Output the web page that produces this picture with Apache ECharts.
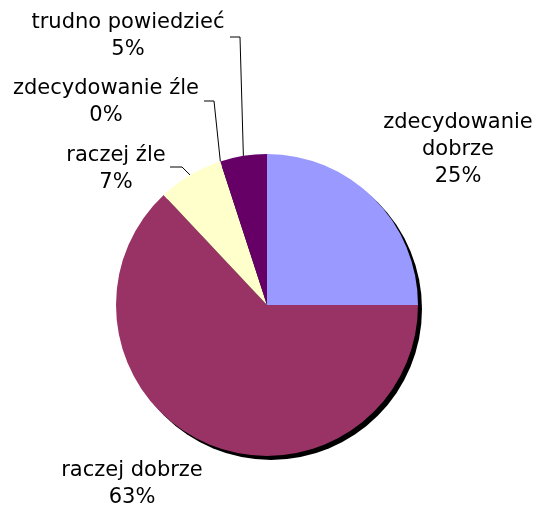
<!DOCTYPE html>
<html>
<head>
<meta charset="utf-8">
<script src="https://cdn.jsdelivr.net/npm/echarts@6/dist/echarts.min.js"></script>
<style>
  html, body { margin: 0; padding: 0; background: #fff; }
  #main { width: 541px; height: 509px; }
</style>
</head>
<body>
<div id="main"></div>
<script>
// dane z wykresu
const categories = ['zdecydowanie\ndobrze', 'raczej dobrze', 'raczej źle', 'zdecydowanie źle', 'trudno powiedzieć'];
const values = [25, 63, 7, 0, 5];
const colors = ['#9999FF', '#993366', '#FFFFCC', '#3D0A3D', '#660066'];

// gdzie stoją etykiety (środek bloku tekstu)
const labelPos = [[458, 150], [132, 484], [116, 169], [106, 102], [128, 36]];
// linie: [x załamania, y poziomego odcinka, x końca przy tekście]
const linePos = [null, null, [182, 167, 170], [214, 101, 204], [240, 37, 230]];

const chart = echarts.init(document.getElementById('main'));

chart.setOption({
    animation: false,
    series: [
        {
            // cień pod kołem
            type: 'pie',
            silent: true,
            center: [271, 309],
            radius: 151,
            label: { show: false },
            labelLine: { show: false },
            itemStyle: { color: '#000' },
            data: [{ value: 1 }]
        },
        {
            type: 'pie',
            center: [267, 305],
            radius: 151,
            startAngle: 90,
            clockwise: true,
            avoidLabelOverlap: false,
            label: {
                show: true,
                formatter: '{b}\n{d}%',
                fontFamily: 'Verdana, "DejaVu Sans", sans-serif',
                fontSize: 21,
                lineHeight: 27,
                color: '#000',
                align: 'center'
            },
            labelLine: {
                show: true,
                length: 10,
                length2: 10,
                lineStyle: { color: '#000', width: 1 }
            },
            labelLayout: function (params) {
                const i = params.dataIndex;
                const p = labelPos[i];
                const out = { x: p[0], y: p[1], align: 'center', verticalAlign: 'middle' };
                const l = linePos[i];
                if (l && params.labelLinePoints) {
                    const a = params.labelLinePoints[0];
                    out.labelLinePoints = [[a[0], a[1]], [l[0], l[1]], [l[2], l[1]]];
                }
                return out;
            },
            itemStyle: { borderWidth: 0 },
            data: categories.map(function (name, i) {
                return {
                    name: name,
                    value: values[i],
                    itemStyle: { color: colors[i] },
                    labelLine: { show: linePos[i] !== null }
                };
            })
        }
    ]
});
</script>
</body>
</html>
